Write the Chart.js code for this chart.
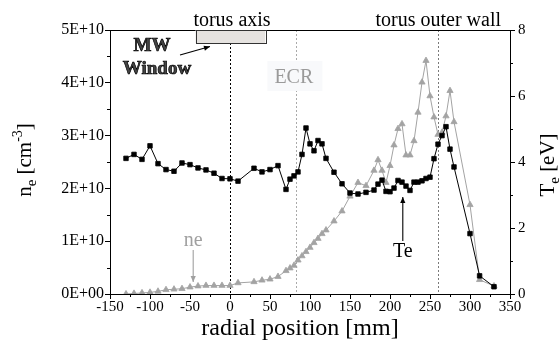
<!DOCTYPE html>
<html>
<head>
<meta charset="utf-8">
<script src="https://cdn.jsdelivr.net/npm/chart.js@4.4.1/dist/chart.umd.min.js"></script>
<style>
  html, body { margin: 0; padding: 0; background: #fff; }
  #wrap { width: 560px; height: 344px; }
</style>
</head>
<body>
<div id="wrap"><canvas id="c" width="560" height="344"></canvas></div>
<script>
// ---- data ----
const radialPos = [-130,-120,-110,-100,-90,-80,-70,-60,-50,-40,-30,-20,-10,0,10,30,40,50,60,70,75,80,85,90,95,100,105,110,115,120,130,140,150,160,170,180,185,190,195,200,205,210,215,220,225,230,235,240,245,250,255,260,265,270,275,280,300,312,330];
// electron temperature [eV] (right axis)
const teValues = [4.11,4.23,4.08,4.49,3.95,3.77,3.72,3.97,3.92,3.82,3.76,3.66,3.50,3.49,3.42,3.81,3.70,3.77,3.89,3.17,3.48,3.58,3.70,4.23,5.03,4.55,4.34,4.65,4.55,4.11,3.69,3.34,3.06,3.03,3.08,3.15,3.33,3.45,3.11,3.10,3.21,3.44,3.39,3.27,3.14,3.39,3.39,3.43,3.50,3.54,4.10,4.54,4.80,5.07,4.39,3.85,1.83,0.55,0.22];
// electron density [cm^-3] (left axis)
const neValues = [0.0,0.01e10,0.02e10,0.03e10,0.05e10,0.08e10,0.09e10,0.10e10,0.13e10,0.15e10,0.16e10,0.16e10,0.16e10,0.16e10,0.21e10,0.23e10,0.26e10,0.28e10,0.33e10,0.44e10,0.49e10,0.54e10,0.64e10,0.72e10,0.80e10,0.88e10,0.97e10,1.05e10,1.14e10,1.21e10,1.38e10,1.57e10,1.85e10,2.11e10,2.05e10,2.34e10,2.54e10,2.34e10,2.11e10,2.43e10,2.82e10,3.13e10,3.22e10,2.63e10,2.63e10,2.90e10,3.44e10,4.01e10,4.42e10,3.75e10,3.35e10,3.02e10,3.06e10,3.37e10,3.85e10,3.26e10,1.69e10,0.27e10,0.15e10];
const xTickLabels = [-150,-100,-50,0,50,100,150,200,250,300,350];
const neTickLabels = ['0E+00','1E+10','2E+10','3E+10','4E+10','5E+10'];
const teTickLabels = [0,2,4,6,8];
// marker positions (mm)
const torusAxisPos = 0;
const ecrPos = 83;
const outerWallPos = 260;
const mwWindow = [-43, 44];

const SERIF = '"Liberation Serif", "DejaVu Serif", "Times New Roman", serif';

function arrow(ctx, x1, y1, x2, y2, color, head) {
  ctx.save();
  ctx.setLineDash([]);
  ctx.strokeStyle = color; ctx.fillStyle = color; ctx.lineWidth = 1.1;
  ctx.beginPath(); ctx.moveTo(x1, y1); ctx.lineTo(x2, y2); ctx.stroke();
  const a = Math.atan2(y2 - y1, x2 - x1);
  const h = head || 6, w = 2.6;
  ctx.beginPath();
  ctx.moveTo(x2, y2);
  ctx.lineTo(x2 - h * Math.cos(a) + w * Math.sin(a), y2 - h * Math.sin(a) - w * Math.cos(a));
  ctx.lineTo(x2 - h * Math.cos(a) - w * Math.sin(a), y2 - h * Math.sin(a) + w * Math.cos(a));
  ctx.closePath(); ctx.fill();
  ctx.restore();
}

function richText(ctx, parts, cx, baseY, rotate) {
  ctx.save();
  ctx.textBaseline = 'alphabetic';
  ctx.textAlign = 'left';
  let total = 0;
  parts.forEach(p => { ctx.font = p.size + 'px ' + SERIF; p.w = ctx.measureText(p.t).width; total += p.w; });
  if (rotate) { ctx.translate(baseY, cx); ctx.rotate(-Math.PI / 2); }
  else { ctx.translate(cx, baseY); }
  let x = -total / 2;
  parts.forEach(p => {
    ctx.font = p.size + 'px ' + SERIF;
    ctx.fillStyle = '#000';
    ctx.fillText(p.t, x, p.dy || 0);
    x += p.w;
  });
  ctx.restore();
}

const decor = {
  id: 'decor',
  beforeDatasetsDraw(chart) {
    const ctx = chart.ctx, ca = chart.chartArea, xs = chart.scales.x;
    ctx.save();
    ctx.lineWidth = 1;
    // torus axis (black dotted)
    let px = Math.round(xs.getPixelForValue(torusAxisPos)) + 0.5;
    ctx.strokeStyle = '#000'; ctx.setLineDash([2, 2]);
    ctx.beginPath(); ctx.moveTo(px, ca.top + 13); ctx.lineTo(px, ca.bottom); ctx.stroke();
    // ECR (light grey dotted)
    px = Math.round(xs.getPixelForValue(ecrPos)) + 0.5;
    ctx.strokeStyle = '#aaaaaa';
    ctx.beginPath(); ctx.moveTo(px, ca.top); ctx.lineTo(px, ca.bottom); ctx.stroke();
    // outer wall (grey dotted)
    px = Math.round(xs.getPixelForValue(outerWallPos)) + 0.5;
    ctx.strokeStyle = '#7a7a7a';
    ctx.beginPath(); ctx.moveTo(px, ca.top); ctx.lineTo(px, ca.bottom); ctx.stroke();
    ctx.setLineDash([]);
    // ECR label with light background
    const ex = xs.getPixelForValue(ecrPos);
    ctx.fillStyle = '#f8f9fb';
    ctx.fillRect(ex - 29, ca.top + 31, 55, 30);
    ctx.font = '20px ' + SERIF;
    ctx.fillStyle = '#9a9a9a';
    ctx.textAlign = 'left'; ctx.textBaseline = 'alphabetic';
    ctx.fillText('ECR', ex - 22, ca.top + 53);
    ctx.restore();
  },
  afterDraw(chart) {
    const ctx = chart.ctx, ca = chart.chartArea, xs = chart.scales.x, ys = chart.scales.y, y2 = chart.scales.y2;
    ctx.save();
    ctx.setLineDash([]);
    // frame top line
    ctx.strokeStyle = '#000'; ctx.lineWidth = 1;
    ctx.beginPath(); ctx.moveTo(ca.left, ca.top + 0.5); ctx.lineTo(ca.right, ca.top + 0.5); ctx.stroke();
    // minor ticks
    ctx.beginPath();
    for (let v = -125; v < 350; v += 50) { const p = Math.round(xs.getPixelForValue(v)) + 0.5; ctx.moveTo(p, ca.bottom); ctx.lineTo(p, ca.bottom + 3); }
    for (let v = 0.5e10; v < 5e10; v += 1e10) { const p = Math.round(ys.getPixelForValue(v)) + 0.5; ctx.moveTo(ca.left, p); ctx.lineTo(ca.left - 3, p); }
    for (let v = 1; v < 8; v += 2) { const p = Math.round(y2.getPixelForValue(v)) + 0.5; ctx.moveTo(ca.right, p); ctx.lineTo(ca.right + 3, p); }
    ctx.stroke();
    // MW window box
    const wx1 = xs.getPixelForValue(mwWindow[0]), wx2 = xs.getPixelForValue(mwWindow[1]);
    ctx.fillStyle = '#e6e3e0';
    ctx.fillRect(wx1, ca.top, wx2 - wx1, 13);
    ctx.strokeStyle = '#333'; ctx.strokeRect(Math.round(wx1) + 0.5, ca.top + 0.5, Math.round(wx2 - wx1), 13);
    // texts
    ctx.fillStyle = '#000'; ctx.textBaseline = 'alphabetic'; ctx.textAlign = 'center';
    ctx.font = '20px ' + SERIF;
    ctx.fillText('torus axis', xs.getPixelForValue(torusAxisPos) + 2, ca.top - 4);
    ctx.textAlign = 'right';
    ctx.fillText('torus outer wall', ca.right - 9, ca.top - 4);
    ctx.textAlign = 'center';
    ctx.font = 'bold 19px ' + SERIF;
    ctx.fillStyle = '#444';
    ctx.strokeStyle = '#000';
    ctx.lineWidth = 0.7;
    ctx.fillText('MW', 152, ca.top + 21);
    ctx.strokeText('MW', 152, ca.top + 21);
    ctx.fillText('Window', 157, ca.top + 44);
    ctx.strokeText('Window', 157, ca.top + 44);
    arrow(ctx, 180, ca.top + 25, 210, ca.top + 16.5, '#000', 6);
    // ne label + arrow
    ctx.font = '20px ' + SERIF;
    ctx.fillStyle = '#a0a0a0';
    const nx = xs.getPixelForValue(-46);
    ctx.fillText('ne', nx, 246);
    arrow(ctx, nx, 250, nx, 282, '#a0a0a0', 6);
    // Te label + arrow
    ctx.fillStyle = '#000';
    const tx = xs.getPixelForValue(216);
    ctx.fillText('Te', tx, 257);
    arrow(ctx, tx, 241, tx, 197, '#000', 6);
    // axis titles
    ctx.fillStyle = '#000';
    ctx.font = '24px ' + SERIF;
    ctx.fillText('radial position [mm]', 300, 335);
    richText(ctx, [{t:'n', size:21}, {t:'e', size:15, dy:5}, {t:' [cm', size:21}, {t:'-3', size:14, dy:-9}, {t:']', size:21}], 160, 31, true);
    richText(ctx, [{t:'T', size:21}, {t:'e', size:15, dy:5}, {t:' [eV]', size:21}], 165, 554, true);
    ctx.restore();
  }
};

const ctx = document.getElementById('c').getContext('2d');
new Chart(ctx, {
  type: 'scatter',
  data: {
    datasets: [
      {
        label: 'Te',
        data: radialPos.map((x, i) => ({ x: x, y: teValues[i] })),
        yAxisID: 'y2',
        showLine: true,
        borderColor: '#000',
        borderWidth: 1,
        pointStyle: 'rect',
        pointRadius: 3.2,
        pointBackgroundColor: '#000',
        pointBorderColor: '#000',
        pointBorderWidth: 0.8,
        order: 0
      },
      {
        label: 'ne',
        data: radialPos.map((x, i) => ({ x: x, y: neValues[i] })),
        yAxisID: 'y',
        showLine: true,
        borderColor: '#a3a3a3',
        borderWidth: 1,
        pointStyle: 'triangle',
        pointRadius: 3.6,
        pointBackgroundColor: '#a3a3a3',
        pointBorderColor: '#a3a3a3',
        pointBorderWidth: 0.8,
        order: 1
      }
    ]
  },
  options: {
    responsive: false,
    animation: false,
    layout: { padding: { top: 30, left: 0, right: 0, bottom: 0 } },
    plugins: { legend: { display: false }, tooltip: { enabled: false } },
    scales: {
      x: {
        type: 'linear', position: 'bottom', min: -150, max: 350,
        afterBuildTicks: s => { s.ticks = xTickLabels.map(v => ({ value: v })); },
        afterFit: s => { s.height = 50; },
        ticks: { color: '#000', font: { family: SERIF, size: 15 }, padding: -1, maxRotation: 0, autoSkip: false },
        grid: { drawOnChartArea: false, drawTicks: true, tickLength: 5, color: '#000', tickColor: '#000' },
        border: { display: true, color: '#000', width: 1 }
      },
      y: {
        type: 'linear', position: 'left', min: 0, max: 5e10,
        afterBuildTicks: s => { s.ticks = neTickLabels.map((t, i) => ({ value: i * 1e10 })); },
        afterFit: s => { s.width = 110; },
        ticks: { color: '#000', font: { family: SERIF, size: 16 }, padding: 1, callback: (v, i) => neTickLabels[i] },
        grid: { drawOnChartArea: false, drawTicks: true, tickLength: 5, color: '#000', tickColor: '#000' },
        border: { display: true, color: '#000', width: 1 }
      },
      y2: {
        type: 'linear', position: 'right', min: 0, max: 8,
        afterBuildTicks: s => { s.ticks = teTickLabels.map(v => ({ value: v })); },
        afterFit: s => { s.width = 50; },
        ticks: { color: '#000', font: { family: SERIF, size: 15 }, padding: 3 },
        grid: { drawOnChartArea: false, drawTicks: true, tickLength: 5, color: '#000', tickColor: '#000' },
        border: { display: true, color: '#000', width: 1 }
      }
    }
  },
  plugins: [decor]
});
</script>
</body>
</html>
